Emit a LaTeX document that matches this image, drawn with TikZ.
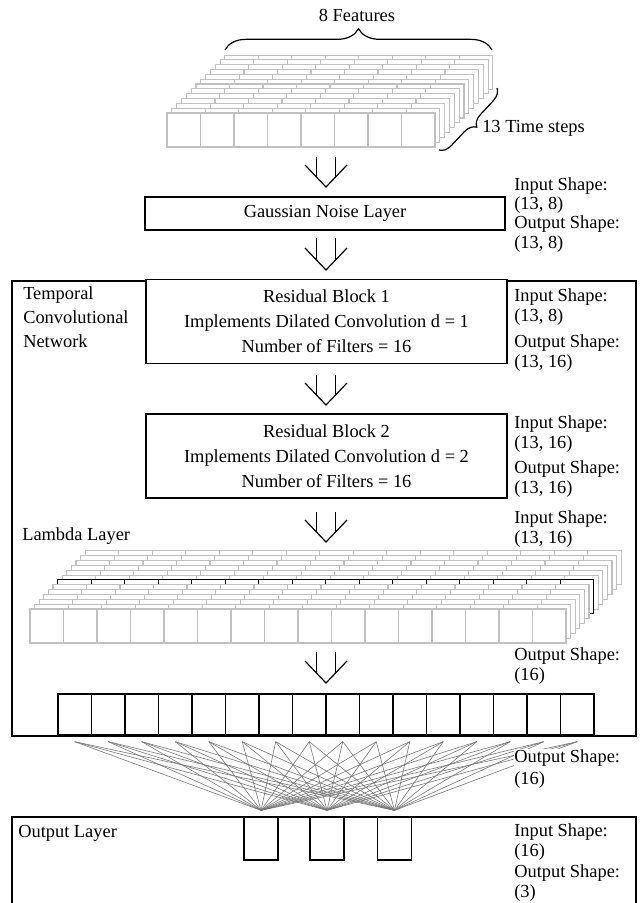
\documentclass[tikz,border=0pt]{standalone}
\usepackage{fontspec}
\setmainfont{Liberation Serif}
\usetikzlibrary{decorations.pathreplacing,calc}
\definecolor{cellgray}{RGB}{192,192,192}
\definecolor{linkgray}{RGB}{120,120,120}
\newcommand{\dnarrow}[3]{%
  \draw[arr] (#1-9.5,#2) -- (#1-9.5,#3-10);
  \draw[arr] (#1+9.5,#2) -- (#1+9.5,#3-10);
  \draw[arr] (#1-21,#3-22) -- (#1,#3) -- (#1+21,#3-22);}
% one layer of a tensor: #1 x, #2 y (top-left), #3 number of cells, #4 line colour
\newcommand{\tlayer}[4]{%
  \fill[white] (#1,#2) rectangle ++({33.5*#3},34);
  \draw[draw=#4, line width=0.8pt] (#1,#2) rectangle ++({33.5*#3},34);
  \foreach \ii in {1,...,\numexpr#3-1\relax} {
    \draw[draw=#4, line width=0.8pt] ({#1+33.5*\ii},#2) -- ++(0,34);
  }}
\begin{document}
\begin{tikzpicture}[x=0.75pt,y=-0.75pt,
  txt/.style={font=\fontsize{13.8}{15.4}\selectfont},
  lbl/.style={txt, align=left, inner sep=0pt, fill=white, anchor=north west},
  hdr/.style={font=\fontsize{13.8}{18}\selectfont, align=left, inner sep=0pt, anchor=north west},
  layerbox/.style={draw, line width=1pt, fill=white, txt, inner sep=0pt},
  resbox/.style={layerbox, font=\fontsize{13.8}{18.75}\selectfont, align=center,
     minimum width=270.75pt, minimum height=63pt},
  frame/.style={draw, line width=1pt},
  neuron/.style={draw, line width=1pt, fill=white, inner sep=0pt},
  link/.style={draw=linkgray, line width=0.45pt},
  arr/.style={draw, line width=0.9pt},
  bracestyle/.style={draw, line width=0.9pt, decorate},
]
\clip (0,0) rectangle (639,903);
\fill[white] (0,0) rectangle (639,903);

% ---------- input tensor (13 time steps x 8 features) ----------
\foreach \k in {12,11,...,0} {
  \tlayer{167+4.83*\k}{113-4.83*\k}{8}{cellgray}
}
\draw[bracestyle, decoration={brace, amplitude=16pt}] (225,50) -- (492,50);
\node[txt, inner sep=0pt] (feat) at (357,15) {8 Features};
\draw[bracestyle, decoration={brace, amplitude=9pt}] (497,88) -- (439,150);
\node[txt, inner sep=0pt, anchor=west] (tsteps) at (482,128) {13 Time steps};

% ---------- arrows ----------
\dnarrow{326}{157}{187}
\dnarrow{326}{238}{270}
\dnarrow{326}{375}{405}
\dnarrow{326}{512}{542}
\dnarrow{326}{652}{683}

% ---------- Gaussian noise ----------
\node[layerbox, minimum width=270pt, minimum height=24.75pt] (gauss) at (325,213.5) {Gaussian Noise Layer};

% ---------- TCN frame ----------
\draw[frame] (12,281) rectangle (636,736);
\node[hdr] (tcnlbl) at (23,286) {Temporal\\Convolutional\\Network};
\node[resbox] (rb1) at (326.5,321.5) {Residual Block 1\\Implements Dilated Convolution d = 1\\Number of Filters = 16};
\node[resbox] (rb2) at (326.5,456) {Residual Block 2\\Implements Dilated Convolution d = 2\\Number of Filters = 16};
\node[hdr] (lamlbl) at (22,527) {Lambda Layer};

% ---------- Lambda tensor (13 x 16), one time step highlighted ----------
\foreach \k in {12,11,...,0} {
  \ifnum\k=6
    \tlayer{30+4.6*\k}{609-4.85*\k}{16}{black}
  \else
    \tlayer{30+4.6*\k}{609-4.85*\k}{16}{cellgray}
  \fi
}

% ---------- dense row of 16 ----------
\foreach \i in {1,...,16} {
  \node[neuron, minimum width=25.125pt, minimum height=30.75pt] (d\i) at ({58+33.5*(\i-0.5)},714.5) {};
}

% ---------- output layer ----------
\draw[frame] (12,817) rectangle (636,930);
\node[neuron, minimum width=25.5pt, minimum height=32.25pt] (o1) at (261,838.5) {};
\node[neuron, minimum width=25.5pt, minimum height=32.25pt] (o2) at (327,838.5) {};
\node[neuron, minimum width=25.5pt, minimum height=32.25pt] (o3) at (394.5,838.5) {};
\node[hdr] (outlbl) at (18,825) {Output Layer};

% ---------- dense connections ----------
\foreach \i in {1,...,16} {
  \foreach \j in {1,2,3} {
    \draw[link] ($(d\i.south)+(0,6)$) -- ($(o\j.north)+(0,-6)$);
  }
}

% ---------- shape labels ----------
\node[lbl, font=\fontsize{13.8}{14.6}\selectfont] (gshape) at (514,177) {Input Shape:\\(13, 8)\\Output Shape:\\(13, 8)};
\node[lbl] (r1in) at (514,288) {Input Shape:\\(13, 8)};
\node[lbl] (r1out) at (514,334) {Output Shape:\\(13, 16)};
\node[lbl] (r2in) at (514,415) {Input Shape:\\(13, 16)};
\node[lbl] (r2out) at (514,460) {Output Shape:\\(13, 16)};
\node[lbl] (lin) at (514,510) {Input Shape:\\(13, 16)};
\node[lbl] (lout) at (514,647) {Output Shape:\\(16)};
\node[lbl, font=\fontsize{13.8}{16.5}\selectfont] (dout) at (514,749) {Output Shape:\\(16)};
\node[lbl] (oin) at (514,823) {Input Shape:\\(16)};
\node[lbl] (oout) at (514,864) {Output Shape:\\(3)};
\end{tikzpicture}
\end{document}
